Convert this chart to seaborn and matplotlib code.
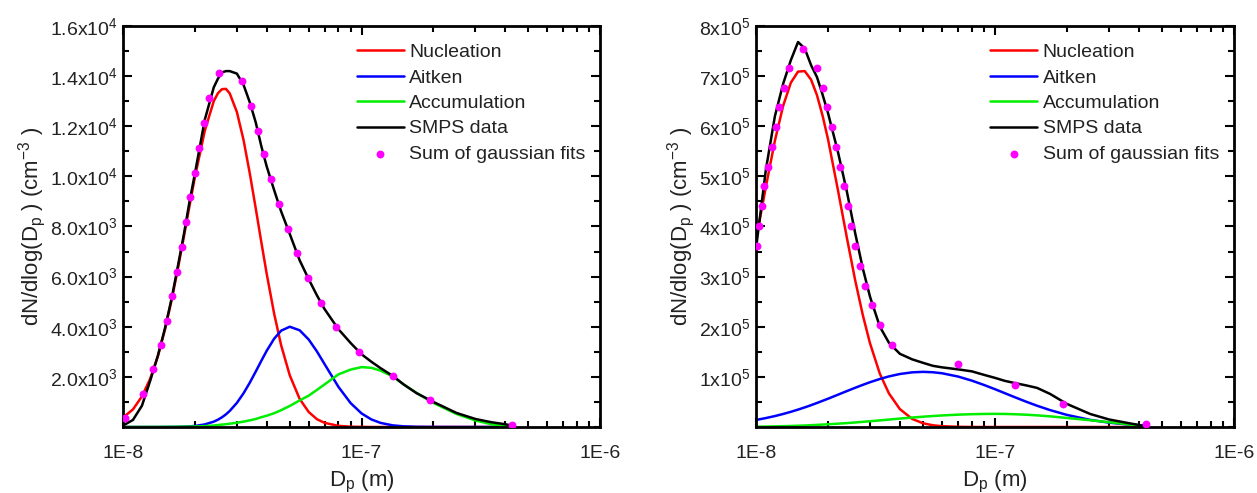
import numpy as np
import pandas as pd
import matplotlib
matplotlib.use("Agg")
import matplotlib.pyplot as plt
import seaborn as sns
from matplotlib.ticker import FixedLocator, MultipleLocator, NullFormatter

# ---- left panel: diameters in nm, dN/dlog(Dp) in cm^-3
dp_left = [10, 11, 12, 13, 14, 15, 16, 17, 18, 19, 20, 22, 24, 25, 26, 27, 28, 30, 32, 34,
           36, 38, 40, 43, 46, 50, 55, 60, 65, 70, 80, 90, 100, 110, 120, 135, 150, 170, 200,
           250, 300, 350, 400, 425]
nucleation_left = [380, 700, 1220, 1930, 2830, 3900, 5090, 6340, 7610, 8830, 9960, 11810, 13000,
                   13320, 13480, 13490, 13310, 12570, 11450, 10110, 8720, 7370, 6120, 4520, 3260,
                   2060, 1120, 600, 310, 165, 45, 12, 4, 0, 0, 0, 0, 0, 0, 0, 0, 0, 0, 0]
aitken_left = [0, 0, 0, 0, 0, 2, 4, 7, 15, 25, 41, 102, 212, 292, 389, 504, 639, 961, 1345,
               1771, 2212, 2642, 3038, 3523, 3844, 4000, 3858, 3492, 3013, 2505, 1599, 952, 541,
               300, 164, 65, 26, 8, 2, 0, 0, 0, 0, 0]
accumulation_left = [0, 0, 1, 2, 3, 5, 7, 10, 13, 16, 20, 35, 60, 78, 95, 112, 130, 170, 215,
                     265, 320, 390, 450, 550, 670, 840, 1060, 1250, 1480, 1700, 2100, 2290, 2390,
                     2360, 2250, 2020, 1700, 1360, 960, 520, 260, 110, 20, 5]
smps_left = [60, 280, 850, 1850, 2850, 3950, 5150, 6450, 7700, 9000, 10100, 12250, 13550, 13900,
             14150, 14200, 14200, 14100, 13650, 12950, 12150, 11200, 10400, 9450, 8600, 7700,
             6650, 5900, 5250, 4700, 3900, 3350, 2900, 2600, 2350, 2040, 1700, 1350, 1000, 560,
             320, 190, 110, 60]
fit_dp_left = [10.2, 12.1, 13.4, 14.4, 15.3, 16.1, 16.8, 17.7, 18.4, 19.1, 20.0, 20.8, 21.9,
               22.9, 25.3, 31.6, 34.4, 36.8, 39.0, 41.7, 45.1, 49.2, 53.7, 59.7, 67.7, 78.2,
               97.6, 135.6, 193.7, 427.6]
fit_left = [359, 1317, 2314, 3272, 4229, 5227, 6185, 7182, 8180, 9177, 10135, 11132, 12130,
            13127, 14125, 13805, 12808, 11810, 10893, 9895, 8898, 7900, 6943, 5945, 4948, 3990,
            2993, 2035, 1077, 80]

# ---- right panel: diameters in nm, dN/dlog(Dp) in 1e3 cm^-3
dp_right = [10, 11, 12, 13, 14, 15, 16, 17, 18, 19, 20, 22, 24, 26, 28, 30, 33, 36, 40, 45,
            50, 55, 60, 70, 80, 90, 100, 110, 120, 135, 150, 170, 200, 250, 300, 350, 400, 425]
nucleation_right = [373, 479, 571, 641, 687, 709, 710, 693, 662, 621, 575, 474, 378, 293, 223,
                    167, 106, 67, 35.7, 16.2, 7.4, 3.4, 1.6, 0.4, 0, 0, 0, 0, 0, 0, 0, 0, 0,
                    0, 0, 0, 0, 0]
aitken_right = [14.0, 17.8, 21.8, 26.0, 30.3, 34.7, 39.1, 43.5, 47.9, 52.2, 56.3, 64.3, 71.6,
                78.2, 84.1, 89.3, 95.8, 100.9, 105.7, 109.0, 110.0, 109.2, 107.2, 100.7, 92.5,
                83.8, 75.4, 67.4, 60.1, 50.5, 42.4, 33.7, 24.1, 14.2, 8.7, 5.5, 3.6, 2.9]
accumulation_right = [0.5, 0.8, 1.2, 1.6, 2.0, 2.5, 3.0, 3.6, 4.2, 4.8, 5.4, 6.6, 7.8, 9.0,
                      10.3, 11.5, 13.2, 14.8, 16.8, 18.8, 20.5, 21.9, 23.0, 24.6, 25.5, 26.0,
                      26.2, 26.0, 25.5, 24.5, 23.2, 21.2, 18.0, 13.5, 9.5, 6.0, 2.5, 1.0]
smps_right = [355, 513, 620, 685, 732, 768, 755, 722, 698, 663, 627, 550, 470, 387, 316, 260,
              200, 168, 146, 135, 128, 122, 119, 115, 111, 104, 98, 92, 88, 83, 78, 66, 46, 26,
              15, 9, 4, 1]
fit_dp_right = [10.07, 10.26, 10.56, 10.83, 11.22, 11.63, 12.09, 12.52, 13.06, 13.79, 15.68,
                17.95, 19.01, 19.87, 20.80, 21.62, 22.47, 23.35, 24.20, 25.05, 26.04, 27.32,
                28.67, 30.49, 33.03, 37.07, 69.8, 121.2, 192.0, 427.1]
fit_right = [361, 401, 441, 481, 519, 559, 598, 638, 677, 717, 755, 717, 677, 638, 598, 559,
             519, 481, 441, 401, 361, 321, 282, 243, 203, 164, 125, 84, 46, 6]

x_ticks = [1e-8, 1e-7, 1e-6]
x_ticklabels = ["1E-8", "1E-7", "1E-6"]
yticks_left = [2000, 4000, 6000, 8000, 10000, 12000, 14000, 16000]
yticklabels_left = ["2.0x10$^3$", "4.0x10$^3$", "6.0x10$^3$", "8.0x10$^3$",
                    "1.0x10$^4$", "1.2x10$^4$", "1.4x10$^4$", "1.6x10$^4$"]
yticks_right = [1e5, 2e5, 3e5, 4e5, 5e5, 6e5, 7e5, 8e5]
yticklabels_right = ["1x10$^5$", "2x10$^5$", "3x10$^5$", "4x10$^5$",
                     "5x10$^5$", "6x10$^5$", "7x10$^5$", "8x10$^5$"]

sns.set_style("ticks")
plt.rcParams.update({
    "font.family": ["Liberation Sans", "DejaVu Sans"],
    "font.size": 14,
    "mathtext.fontset": "custom",
    "mathtext.rm": "Liberation Sans",
    "mathtext.it": "Liberation Sans:italic",
    "mathtext.bf": "Liberation Sans:bold",
    "text.color": "#222222",
    "axes.labelcolor": "#222222",
    "xtick.color": "black",
    "ytick.color": "black",
    "xtick.labelcolor": "#222222",
    "ytick.labelcolor": "#222222",
})

colors = {"Nucleation": "#ff0000", "Aitken": "#0000ff",
          "Accumulation": "#00ee00", "SMPS data": "#000000"}


def draw(ax, dp, modes, fit_dp, fit, scale, ymax, yticks, yticklabels, minor_step):
    d = np.array(dp) * 1e-9
    for name, vals in modes:
        sns.lineplot(x=d, y=np.array(vals) * scale, color=colors[name], lw=1.8,
                     label=name, estimator=None, sort=False, ax=ax)
    sns.scatterplot(x=np.array(fit_dp) * 1e-9, y=np.array(fit) * scale, color="#ff00ff",
                    s=32, linewidth=0, label="Sum of gaussian fits", zorder=5, ax=ax)

    ax.set_xscale("log")
    ax.set_xlim(1e-8, 1e-6)
    ax.set_ylim(0, ymax)
    ax.xaxis.set_major_locator(FixedLocator(x_ticks))
    ax.set_xticklabels(x_ticklabels)
    minors = [m * 10.0 ** e for e in (-8, -7) for m in range(2, 10)]
    ax.xaxis.set_minor_locator(FixedLocator(minors))
    ax.xaxis.set_minor_formatter(NullFormatter())
    ax.yaxis.set_major_locator(FixedLocator(yticks))
    ax.set_yticklabels(yticklabels)
    ax.yaxis.set_minor_locator(MultipleLocator(minor_step))

    ax.tick_params(which="both", direction="in", top=True, right=True, width=1.5)
    ax.tick_params(which="major", length=6.5)
    ax.tick_params(which="minor", length=4)
    ax.tick_params(axis="x", which="major", pad=13, labelsize=14)
    ax.tick_params(axis="y", which="major", pad=4, labelsize=14)
    for sp in ax.spines.values():
        sp.set_linewidth(2)
        sp.set_color("black")

    ax.set_xlabel(r"D$_\mathregular{p}$ (m)", fontsize=16, labelpad=5)
    ax.set_ylabel(r"dN/dlog(D$_\mathregular{p}$ ) (cm$^\mathregular{-3}$ )", fontsize=16,
                  labelpad=1.5)

    ax.legend(loc="upper left", bbox_to_anchor=(0.49, 0.956), frameon=False, borderpad=0,
              borderaxespad=0, handlelength=2.42, handletextpad=0.28, labelspacing=0.4,
              fontsize=14, scatterpoints=1)


fig = plt.figure(figsize=(12.57, 4.93), dpi=100)
ax1 = fig.add_axes([0.0979, 0.1339, 0.3795, 0.8134])
ax2 = fig.add_axes([0.6014, 0.1339, 0.3803, 0.8134])

draw(ax1,
     dp_left,
     [("Nucleation", nucleation_left), ("Aitken", aitken_left),
      ("Accumulation", accumulation_left), ("SMPS data", smps_left)],
     fit_dp_left, fit_left, 1.0, 16000, yticks_left, yticklabels_left, 1000)

draw(ax2,
     dp_right,
     [("Nucleation", nucleation_right), ("Aitken", aitken_right),
      ("Accumulation", accumulation_right), ("SMPS data", smps_right)],
     fit_dp_right, fit_right, 1000.0, 8e5, yticks_right, yticklabels_right, 50000)

fig.savefig("out.png", dpi=100)
